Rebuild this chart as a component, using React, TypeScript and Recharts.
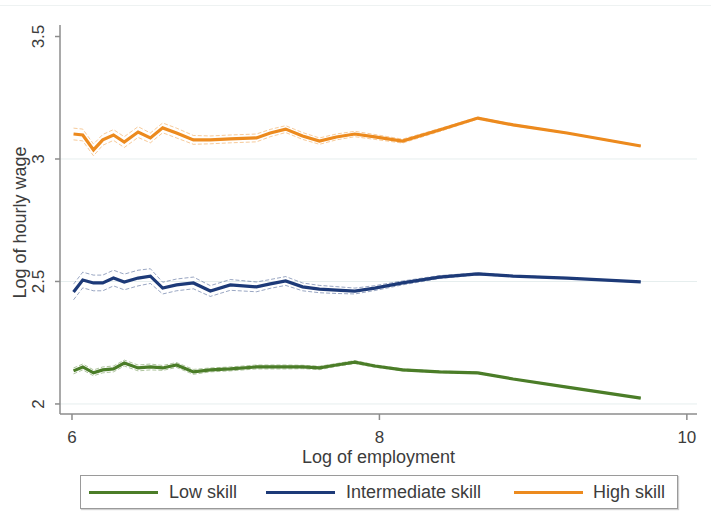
import React from "react";
import { LineChart, Line, XAxis, YAxis, CartesianGrid, Label } from "recharts";

// log of employment (shared x positions of the smoothed curves)
const logEmployment = [
  6.01, 6.07, 6.14, 6.2, 6.27, 6.34, 6.43, 6.51, 6.59, 6.68, 6.79, 6.9, 7.03,
  7.2, 7.29, 7.39, 7.5, 7.61, 7.72, 7.84, 7.97, 8.15, 8.39, 8.64, 8.87, 9.22,
  9.7,
];

const lowSkill = [
  2.135, 2.151, 2.127, 2.139, 2.143, 2.167, 2.147, 2.151, 2.147, 2.159, 2.131,
  2.139, 2.143, 2.151, 2.151, 2.151, 2.151, 2.147, 2.159, 2.171, 2.155, 2.139,
  2.131, 2.127, 2.102, 2.069, 2.024,
];
const intermediateSkill = [
  2.457, 2.506, 2.494, 2.494, 2.514, 2.498, 2.514, 2.522, 2.473, 2.486, 2.494,
  2.461, 2.486, 2.478, 2.49, 2.502, 2.478, 2.469, 2.465, 2.461, 2.473, 2.494,
  2.518, 2.531, 2.522, 2.514, 2.498,
];
const highSkill = [
  3.102, 3.098, 3.037, 3.078, 3.098, 3.069, 3.11, 3.086, 3.127, 3.106, 3.078,
  3.078, 3.082, 3.086, 3.106, 3.122, 3.094, 3.073, 3.09, 3.102, 3.09, 3.073,
  3.118, 3.167, 3.139, 3.106, 3.053,
];

// half width of the dashed confidence bands
const lowBand = [
  0.012, 0.012, 0.012, 0.012, 0.012, 0.012, 0.012, 0.012, 0.01, 0.01, 0.01,
  0.008, 0.008, 0.008, 0.008, 0.008, 0.007, 0.007, 0.006, 0.006, 0.005, 0.004,
  0.003, 0.003, 0.002, 0.002, 0.002,
];
const intermediateBand = [
  0.032, 0.032, 0.032, 0.032, 0.032, 0.032, 0.032, 0.03, 0.024, 0.024, 0.024,
  0.022, 0.022, 0.02, 0.018, 0.018, 0.016, 0.015, 0.014, 0.012, 0.01, 0.008,
  0.006, 0.004, 0.003, 0.002, 0.002,
];
const highBand = [
  0.024, 0.024, 0.024, 0.022, 0.022, 0.022, 0.022, 0.02, 0.02, 0.02, 0.018,
  0.016, 0.016, 0.016, 0.015, 0.014, 0.014, 0.013, 0.012, 0.011, 0.01, 0.008,
  0.006, 0.004, 0.003, 0.002, 0.002,
];

const xTicks = [6, 8, 10];
const yTicks = [2, 2.5, 3, 3.5];
const gridValues = [2, 2.5, 3];

const GREEN = "#4b7d28";
const NAVY = "#1d3a78";
const ORANGE = "#ec8a1e";
const TEXT = "#3c3c3c";
const AXIS = "#8c8c8c";
const FONT = "'Liberation Sans', Arial, sans-serif";

const data = logEmployment.map((x, i) => ({
  x,
  low: lowSkill[i],
  lowHi: lowSkill[i] + lowBand[i],
  lowLo: lowSkill[i] - lowBand[i],
  mid: intermediateSkill[i],
  midHi: intermediateSkill[i] + intermediateBand[i],
  midLo: intermediateSkill[i] - intermediateBand[i],
  high: highSkill[i],
  highHi: highSkill[i] + highBand[i],
  highLo: highSkill[i] - highBand[i],
}));

const XTick = ({ x, y, payload }: any) => (
  <text x={x} y={y + 21} textAnchor="middle" fontSize={17} fill={TEXT} fontFamily={FONT}>
    {payload.value}
  </text>
);

const YTick = ({ x, y, payload }: any) => {
  const bx = x - 9;
  return (
    <text
      x={bx}
      y={y}
      transform={`rotate(-90 ${bx} ${y})`}
      textAnchor="middle"
      fontSize={17}
      fill={TEXT}
      fontFamily={FONT}
    >
      {payload.value}
    </text>
  );
};

const legendItems = [
  { name: "Low skill", color: GREEN, line: 8, text: 88 },
  { name: "Intermediate skill", color: NAVY, line: 185, text: 265 },
  { name: "High skill", color: ORANGE, line: 433, text: 512 },
];

const bandLine = (key: string, color: string) => (
  <Line
    key={key}
    type="linear"
    dataKey={key}
    stroke={color}
    strokeOpacity={0.45}
    strokeWidth={1}
    strokeDasharray="4 2"
    dot={false}
    activeDot={false}
    isAnimationActive={false}
  />
);

export default function App() {
  return (
    <div
      style={{
        position: "absolute",
        left: 0,
        top: 0,
        width: 711,
        height: 530,
        background: "#fff",
        fontFamily: FONT,
      }}
    >
      <div style={{ position: "absolute", left: 0, top: 5, width: 711, borderTop: "1px solid #eef2f2" }} />
      <LineChart
        width={711}
        height={530}
        data={data}
        margin={{ top: 25, right: 14, left: 0, bottom: 0 }}
      >
        <CartesianGrid
          horizontal
          vertical={false}
          horizontalValues={gridValues}
          stroke="#e6eeee"
        />
        <XAxis
          dataKey="x"
          type="number"
          domain={[5.922, 10.066]}
          ticks={xTicks}
          allowDataOverflow
          height={116}
          tickSize={6}
          stroke={AXIS}
          strokeWidth={1.5}
          tick={<XTick />}
        >
          <Label
            content={({ viewBox }: any) => (
              <text
                x={viewBox.x + viewBox.width / 2}
                y={viewBox.y + 49}
                textAnchor="middle"
                fontSize={18}
                fill={TEXT}
                fontFamily={FONT}
              >
                Log of employment
              </text>
            )}
          />
        </XAxis>
        <YAxis
          type="number"
          domain={[1.959, 3.547]}
          ticks={yTicks}
          allowDataOverflow
          width={60}
          tickSize={5}
          stroke={AXIS}
          strokeWidth={1.5}
          tick={<YTick />}
        >
          <Label
            content={({ viewBox }: any) => {
              const lx = viewBox.x + 26;
              const ly = viewBox.y + viewBox.height / 2 + 3;
              return (
                <text
                  x={lx}
                  y={ly}
                  transform={`rotate(-90 ${lx} ${ly})`}
                  textAnchor="middle"
                  fontSize={18}
                  fill={TEXT}
                  fontFamily={FONT}
                >
                  Log of hourly wage
                </text>
              );
            }}
          />
        </YAxis>
        {bandLine("lowHi", GREEN)}
        {bandLine("lowLo", GREEN)}
        {bandLine("midHi", NAVY)}
        {bandLine("midLo", NAVY)}
        {bandLine("highHi", ORANGE)}
        {bandLine("highLo", ORANGE)}
        <Line type="linear" dataKey="low" stroke={GREEN} strokeWidth={3.2} dot={false} isAnimationActive={false} />
        <Line type="linear" dataKey="mid" stroke={NAVY} strokeWidth={3.2} dot={false} isAnimationActive={false} />
        <Line type="linear" dataKey="high" stroke={ORANGE} strokeWidth={3.2} dot={false} isAnimationActive={false} />
      </LineChart>
      <div
        style={{
          position: "absolute",
          left: 80,
          top: 475,
          width: 598,
          height: 34,
          boxSizing: "border-box",
          border: "1px solid #9a9a9a",
          boxShadow: "1px 1px 1px #d0d0d0",
        }}
      >
        {legendItems.map((it) => (
          <React.Fragment key={it.name}>
            <div
              style={{
                position: "absolute",
                left: it.line,
                top: 15,
                width: 69,
                height: 3,
                background: it.color,
              }}
            />
            <span
              style={{
                position: "absolute",
                left: it.text,
                top: 0,
                lineHeight: "32px",
                fontSize: 18,
                color: TEXT,
                whiteSpace: "nowrap",
              }}
            >
              {it.name}
            </span>
          </React.Fragment>
        ))}
      </div>
    </div>
  );
}
